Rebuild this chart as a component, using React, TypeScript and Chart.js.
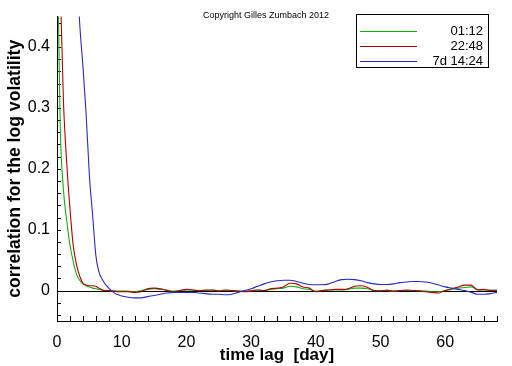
import React, { useEffect, useRef } from "react";
import { Chart, registerables } from "chart.js";

Chart.register(...registerables);

const LAG: number[] = [
  0, 0.5, 1, 1.5, 2, 2.5, 3, 3.5, 4, 4.5, 5, 5.5, 6, 6.5, 7, 7.5, 8, 8.5, 9, 9.5, 10,
  11, 12, 13, 14, 15, 16, 17, 18, 19, 20, 21, 22, 23, 24, 25, 26, 27, 28, 29, 30,
  31, 32, 33, 34, 35, 36, 37, 38, 39, 40, 41, 42, 43, 44, 45, 46, 47, 48, 49, 50,
  51, 52, 53, 54, 55, 56, 57, 58, 59, 60, 61, 62, 63, 64, 65, 66, 67, 68,
];

const LABELS: string[] = ["01:12", "22:48", "7d 14:24"];
const COLORS: string[] = ["#10b010", "#b00000", "#2a2ac0"];

const GREEN: number[] = [
  0.6, 0.27, 0.165, 0.115, 0.075, 0.048, 0.027, 0.017, 0.011, 0.008, 0.006, 0.004, 0.003, 0.002, 0.001, 0, 0, -0.0005, -0.001, -0.001, -0.001,
  -0.001, -0.002, 0.0, 0.002, 0.003, 0.002, 0.001, -0.001, 0.0, 0.001, 0.001, 0.0, 0.0, 0.001, 0.0, 0.0, 0.0, -0.001, -0.001, 0.0,
  0.001, 0.0, 0.002, 0.003, 0.004, 0.007, 0.006, 0.003, 0.002, -0.001, 0.0, 0.001, 0.001, 0.001, 0.002, 0.004, 0.004, 0.003, 0.0, 0.0,
  0.0, -0.001, 0.0, 0.0, 0.0, 0.0, -0.001, -0.002, -0.002, 0.0, 0.002, 0.004, 0.005, 0.006, 0.002, 0.001, 0.001, 0.0,
];

const RED: number[] = [
  0.8, 0.5, 0.31, 0.21, 0.135, 0.075, 0.043, 0.024, 0.012, 0.009, 0.008, 0.008, 0.007, 0.004, 0.001, 0, 0, -0.001, -0.001, -0.002, -0.002,
  -0.002, -0.003, -0.002, 0.003, 0.004, 0.003, 0.0, -0.002, 0.0, 0.002, 0.001, 0.0, 0.001, 0.001, -0.001, 0.001, 0.0, -0.001, -0.002, -0.001,
  0.001, 0.0, 0.003, 0.004, 0.006, 0.012, 0.011, 0.006, 0.004, -0.002, 0.0, 0.001, 0.002, 0.002, 0.003, 0.007, 0.008, 0.005, 0.0, -0.001,
  0.001, -0.001, 0.0, 0.001, 0.0, -0.001, -0.002, -0.003, -0.004, 0.0, 0.003, 0.006, 0.009, 0.009, 0.001, 0.002, 0.0, 0.001,
];

const BLUE: number[] = [
  1.0, 0.98, 0.95, 0.9, 0.82, 0.7, 0.55, 0.44, 0.37, 0.29, 0.19, 0.125, 0.058, 0.03, 0.018, 0.01, 0.004, -0.001, -0.005, -0.007, -0.009,
  -0.011, -0.012, -0.012, -0.01, -0.008, -0.006, -0.004, -0.003, -0.003, -0.003, -0.003, -0.004, -0.005, -0.006, -0.006, -0.007, -0.006, -0.003, 0.0, 0.003,
  0.007, 0.011, 0.014, 0.016, 0.017, 0.017, 0.015, 0.012, 0.01, 0.0095, 0.0095, 0.011, 0.015, 0.018, 0.0186, 0.018, 0.016, 0.013, 0.011, 0.01,
  0.01, 0.011, 0.013, 0.014, 0.015, 0.015, 0.014, 0.012, 0.009, 0.006, 0.004, 0.002, 0.0, -0.003, -0.006, -0.006, -0.005, -0.003,
];

const X_TICKS: number[] = [0, 10, 20, 30, 40, 50, 60];
const Y_TICKS: number[] = [0, 0.1, 0.2, 0.3, 0.4];
const X_MINOR: number[] = [0, 2, 4, 6, 8, 10, 12, 14, 16, 18, 20, 22, 24, 26, 28, 30, 32, 34, 36, 38, 40, 42, 44, 46, 48, 50, 52, 54, 56, 58, 60, 62, 64, 66, 68];
const Y_MINOR: number[] = [-0.04, -0.02, 0, 0.02, 0.04, 0.06, 0.08, 0.1, 0.12, 0.14, 0.16, 0.18, 0.2, 0.22, 0.24, 0.26, 0.28, 0.3, 0.32, 0.34, 0.36, 0.38, 0.4, 0.42, 0.44];

const X_TITLE = "time lag  [day]";
const Y_TITLE = "correlation for the log volatility";
const COPYRIGHT = "Copyright Gilles Zumbach 2012";

const FONT = "'Liberation Sans', Arial, Helvetica, sans-serif";

const decor = {
  id: "decor",
  beforeDatasetsDraw(chart: any) {
    const { ctx, chartArea, scales } = chart;
    const x = scales.x;
    const y = scales.y;
    ctx.save();
    ctx.strokeStyle = "#000";
    ctx.lineWidth = 1;
    ctx.beginPath();
    const y0 = Math.round(y.getPixelForValue(0)) + 0.5;
    ctx.moveTo(chartArea.left, y0);
    ctx.lineTo(chartArea.right, y0);
    for (const v of X_MINOR) {
      const px = Math.round(x.getPixelForValue(v)) + 0.5;
      ctx.moveTo(px, chartArea.bottom);
      ctx.lineTo(px, chartArea.bottom - 5);
    }
    for (const v of Y_MINOR) {
      const py = Math.round(y.getPixelForValue(v)) + 0.5;
      ctx.moveTo(chartArea.left, py);
      ctx.lineTo(chartArea.left + 4, py);
    }
    ctx.stroke();
    ctx.restore();
  },
  afterDraw(chart: any) {
    const { ctx } = chart;
    ctx.save();
    ctx.fillStyle = "#000";
    ctx.font = `9px ${FONT}`;
    ctx.textAlign = "center";
    ctx.textBaseline = "middle";
    ctx.fillText(COPYRIGHT, 266, 16);

    // legend box
    const bx = 356, by = 14, bw = 132, bh = 53;
    ctx.fillStyle = "#fff";
    ctx.fillRect(bx, by, bw, bh);
    ctx.strokeStyle = "#000";
    ctx.lineWidth = 1;
    ctx.strokeRect(bx + 0.5, by + 0.5, bw, bh);
    ctx.font = `13px ${FONT}`;
    ctx.textAlign = "right";
    ctx.textBaseline = "middle";
    chart.data.datasets.forEach((ds: any, i: number) => {
      const ry = Math.round(by + 17 + i * 15) + 0.5;
      ctx.strokeStyle = COLORS[i];
      ctx.lineWidth = 1;
      ctx.beginPath();
      ctx.moveTo(360, ry);
      ctx.lineTo(417, ry);
      ctx.stroke();
      ctx.fillStyle = "#000";
      ctx.fillText(ds.label, 483, ry);
    });
    ctx.restore();
  },
};

export default function App() {
  const ref = useRef<HTMLCanvasElement | null>(null);
  useEffect(() => {
    if (!ref.current) return;
    const series = [GREEN, RED, BLUE];
    const chart = new Chart(ref.current, {
      type: "line",
      data: {
        datasets: series.map((s, i) => ({
          label: LABELS[i],
          data: LAG.map((lag, j) => ({ x: lag, y: s[j] })),
          borderColor: COLORS[i],
          backgroundColor: COLORS[i],
          borderWidth: 1.1,
          pointRadius: 0,
          cubicInterpolationMode: "monotone" as const,
          order: [2, 1, 0][i],
        })),
      },
      options: {
        animation: false,
        responsive: false,
        devicePixelRatio: 1,
        layout: { padding: { top: 7, right: 15, left: 0, bottom: 0 } },
        plugins: { legend: { display: false }, tooltip: { enabled: false } },
        scales: {
          x: {
            type: "linear",
            min: 0,
            max: 68,
            afterBuildTicks: (scale: any) => {
              scale.ticks = X_TICKS.map((v) => ({ value: v }));
            },
            afterFit: (scale: any) => {
              scale.height = 45;
            },
            ticks: {
              color: "#000",
              font: { family: FONT, size: 16 },
              padding: 12,
              maxRotation: 0,
              autoSkip: false,
              callback: (v: any) => String(v),
            },
            grid: { display: false, drawTicks: false },
            border: { display: true, color: "#000", width: 1 },
            title: {
              display: true,
              text: X_TITLE,
              color: "#000",
              font: { family: FONT, size: 17, weight: "bold" },
              padding: { top: 0, bottom: 0 },
            },
          },
          y: {
            type: "linear",
            min: -0.05,
            max: 0.45,
            afterBuildTicks: (scale: any) => {
              scale.ticks = Y_TICKS.map((v) => ({ value: v }));
            },
            afterFit: (scale: any) => {
              scale.width = 57;
            },
            ticks: {
              color: "#000",
              font: { family: FONT, size: 16 },
              padding: 7,
              autoSkip: false,
              callback: (v: any) => (v === 0 ? "0" : Number(v).toFixed(1)),
            },
            grid: { display: false, drawTicks: false },
            border: { display: true, color: "#000", width: 1 },
            title: {
              display: true,
              text: Y_TITLE,
              color: "#000",
              font: { family: FONT, size: 17.6, weight: "bold" },
              padding: { top: 5, bottom: 0 },
            },
          },
        },
      },
      plugins: [decor],
    });
    return () => chart.destroy();
  }, []);
  return (
    <div style={{ position: "fixed", left: 0, top: 0, width: 512, height: 366, background: "#fff" }}>
      <canvas ref={ref} width={512} height={366} style={{ width: 512, height: 366, display: "block" }} />
    </div>
  );
}
